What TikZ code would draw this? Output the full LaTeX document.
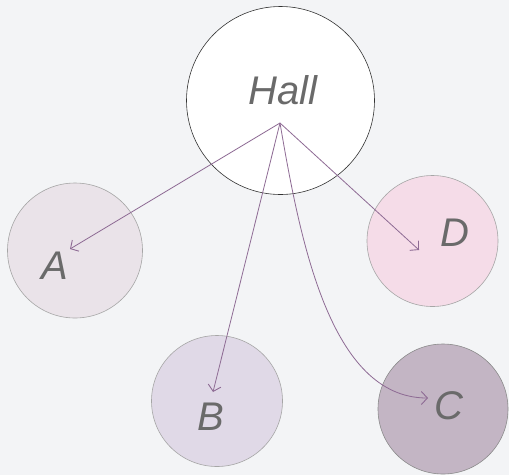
\documentclass[tikz,border=0pt]{standalone}
\usepackage{fontspec}
\setmainfont{Liberation Sans}
\usetikzlibrary{arrows.meta}
\definecolor{bg}{HTML}{F3F4F6}
\definecolor{fillA}{HTML}{EAE3E9}
\definecolor{fillB}{HTML}{E0D9E7}
\definecolor{fillC}{HTML}{C3B5C4}
\definecolor{fillD}{HTML}{F5DCE8}
\definecolor{edgecol}{HTML}{8E6B94}
\definecolor{txt}{HTML}{6A6A6A}
\begin{document}
\begin{tikzpicture}[x=1pt,y=-1pt,
  bubble/.style={circle,draw=black!35,line width=0.6pt,inner sep=0pt},
  lbl/.style={text=txt,font=\fontsize{40}{40}\selectfont\itshape,inner sep=0pt,anchor=center},
  link/.style={draw=edgecol,line width=0.8pt,-{Straight Barb[length=6pt,width=13pt,line width=0.9pt]}}]
\fill[bg] (0,0) rectangle (509,475);
\useasboundingbox (0,0) rectangle (509,475);
\node[bubble,draw=black!80,fill=white,minimum size=188pt] (hall) at (280.5,100.5) {};
\node[bubble,fill=fillA,minimum size=135pt] (A) at (75,250.5) {};
\node[bubble,fill=fillB,minimum size=131pt] (B) at (217,401) {};
\node[bubble,draw=black!45,fill=fillC,minimum size=130pt] (C) at (443,409) {};
\node[bubble,fill=fillD,minimum size=131pt] (D) at (432.5,241) {};
\node[lbl] (hallt) at (283,90) {Hall};
\node[lbl] (At) at (55,266) {A};
\node[lbl] (Bt) at (211,417) {B};
\node[lbl] (Ct) at (449,406) {C};
\node[lbl] (Dt) at (455,233) {D};
\coordinate (hub) at (280,123);
\coordinate (tA) at (70,249);
\coordinate (tB) at (213,392);
\coordinate (tC) at (428,398);
\coordinate (tD) at (419,250);
\draw[link] (hub) -- (tA);
\draw[link] (hub) -- (tB);
\draw[link] (hub) -- (tD);
\draw[link] (hub) .. controls (300,240) and (330,398) .. (tC);
\end{tikzpicture}
\end{document}
